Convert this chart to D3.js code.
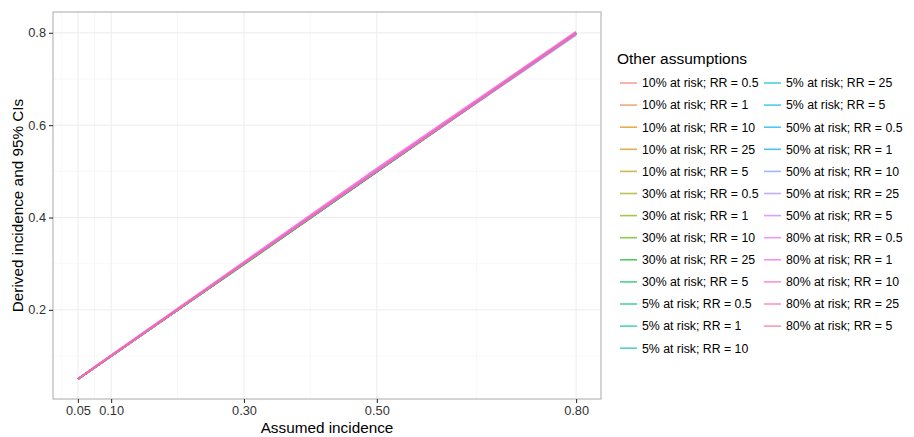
<!DOCTYPE html>
<html>
<head>
<meta charset="utf-8">
<script src="https://cdn.jsdelivr.net/npm/d3@7"></script>
<style>
  body { margin: 0; background: #fff; }
  svg { font-family: "Liberation Sans", Arial, sans-serif; }
</style>
</head>
<body>
<script>
// DATA
const assumed = [0.05, 0.10, 0.30, 0.50, 0.80];
const xTicks = [0.05, 0.10, 0.30, 0.50, 0.80];
const yTicks = [0.2, 0.4, 0.6, 0.8];
const ciRange = [0.045, 0.807];   // extent of the 95% CIs, sets the y axis range

const riskLevels = ["10%", "30%", "5%", "50%", "80%"];
const rrLevels = ["0.5", "1", "10", "25", "5"];

// derived incidence, one row per (risk, RR) in legend order
const derived = [
  [0.050, 0.100, 0.300, 0.500, 0.800],
  [0.050, 0.100, 0.300, 0.500, 0.800],
  [0.050, 0.100, 0.300, 0.500, 0.799],
  [0.050, 0.100, 0.299, 0.499, 0.799],
  [0.050, 0.100, 0.300, 0.500, 0.799],
  [0.050, 0.100, 0.300, 0.500, 0.800],
  [0.050, 0.100, 0.300, 0.500, 0.799],
  [0.050, 0.100, 0.299, 0.499, 0.798],
  [0.050, 0.100, 0.298, 0.499, 0.798],
  [0.050, 0.100, 0.299, 0.499, 0.799],
  [0.050, 0.100, 0.300, 0.500, 0.800],
  [0.050, 0.100, 0.300, 0.500, 0.800],
  [0.050, 0.100, 0.300, 0.500, 0.799],
  [0.050, 0.100, 0.300, 0.500, 0.799],
  [0.050, 0.100, 0.300, 0.500, 0.800],
  [0.050, 0.100, 0.301, 0.502, 0.799],
  [0.050, 0.100, 0.301, 0.501, 0.798],
  [0.050, 0.100, 0.300, 0.501, 0.796],
  [0.050, 0.100, 0.300, 0.500, 0.795],
  [0.050, 0.101, 0.302, 0.503, 0.798],
  [0.051, 0.102, 0.304, 0.506, 0.803],
  [0.051, 0.102, 0.304, 0.506, 0.802],
  [0.050, 0.100, 0.301, 0.501, 0.800],
  [0.050, 0.100, 0.300, 0.500, 0.799],
  [0.050, 0.100, 0.300, 0.501, 0.799]
];

const labels = [];
riskLevels.forEach(r => rrLevels.forEach(rr => labels.push(r + " at risk; RR = " + rr)));

// ggplot-like hue palette (polarLUV, l = 65, c = 100)
function hclLuv(h, c, l) {
  const hr = h * Math.PI / 180;
  const u = c * Math.cos(hr), v = c * Math.sin(hr);
  const Xn = 95.047, Yn = 100, Zn = 108.883;
  const un = 4 * Xn / (Xn + 15 * Yn + 3 * Zn), vn = 9 * Yn / (Xn + 15 * Yn + 3 * Zn);
  const Y = Yn * Math.pow((l + 16) / 116, 3);
  const up = u / (13 * l) + un, vp = v / (13 * l) + vn;
  const X = Y * 9 * up / (4 * vp);
  const Z = Y * (12 - 3 * up - 20 * vp) / (4 * vp);
  const x = X / 100, y = Y / 100, z = Z / 100;
  let rgb = [
    3.240479 * x - 1.53715 * y - 0.498535 * z,
    -0.969256 * x + 1.875992 * y + 0.041556 * z,
    0.055648 * x - 0.204043 * y + 1.057311 * z
  ];
  rgb = rgb.map(t => {
    t = t <= 0.0031308 ? 12.92 * t : 1.055 * Math.pow(t, 1 / 2.4) - 0.055;
    return Math.round(255 * Math.max(0, Math.min(1, t)));
  });
  return d3.rgb(rgb[0], rgb[1], rgb[2]).formatHex();
}
const colors = labels.map((d, i) => hclLuv(15 + 360 * i / labels.length, 100, 65));

// D3
const svg = d3.select("body").append("svg")
  .attr("width", 914).attr("height", 437);

const panel = {left: 53, right: 601, top: 12, bottom: 399};

function expand(ext) {
  const pad = (ext[1] - ext[0]) * 0.05;
  return [ext[0] - pad, ext[1] + pad];
}

const xScale = d3.scaleLinear()
  .domain(expand(d3.extent(assumed)))
  .range([panel.left, panel.right]);

const yScale = d3.scaleLinear()
  .domain(expand(ciRange))
  .range([panel.bottom, panel.top]);

// minor breaks between majors (ggplot style)
function minorBreaks(ticks, scale) {
  const dom = scale.domain();
  const step0 = ticks[1] - ticks[0], stepN = ticks[ticks.length - 1] - ticks[ticks.length - 2];
  const b = [ticks[0] - step0].concat(ticks, [ticks[ticks.length - 1] + stepN]);
  const out = [];
  for (let i = 0; i < b.length - 1; i++) {
    const m = (b[i] + b[i + 1]) / 2;
    if (m >= dom[0] && m <= dom[1]) out.push(m);
  }
  return out;
}
const yMinor = minorBreaks(yTicks, yScale);
const xMinor = minorBreaks(xTicks, xScale);

const grid = svg.append("g");
grid.selectAll(".xmin").data(xMinor).enter().append("line")
  .attr("x1", d => xScale(d)).attr("x2", d => xScale(d))
  .attr("y1", panel.top).attr("y2", panel.bottom)
  .attr("stroke", "#f4f4f4").attr("stroke-width", 0.6);
grid.selectAll(".ymin").data(yMinor).enter().append("line")
  .attr("y1", d => yScale(d)).attr("y2", d => yScale(d))
  .attr("x1", panel.left).attr("x2", panel.right)
  .attr("stroke", "#f4f4f4").attr("stroke-width", 0.6);
grid.selectAll(".xmaj").data(xTicks).enter().append("line")
  .attr("x1", d => xScale(d)).attr("x2", d => xScale(d))
  .attr("y1", panel.top).attr("y2", panel.bottom)
  .attr("stroke", "#ececec").attr("stroke-width", 1);
grid.selectAll(".ymaj").data(yTicks).enter().append("line")
  .attr("y1", d => yScale(d)).attr("y2", d => yScale(d))
  .attr("x1", panel.left).attr("x2", panel.right)
  .attr("stroke", "#ececec").attr("stroke-width", 1);

// lines
const line = d3.line().x((d, i) => xScale(assumed[i])).y(d => yScale(d));
svg.append("g").selectAll("path").data(derived).enter().append("path")
  .attr("d", line)
  .attr("fill", "none")
  .attr("stroke", (d, i) => colors[i])
  .attr("stroke-opacity", 0.6)
  .attr("stroke-width", 1.7);

// panel border
svg.append("rect")
  .attr("x", panel.left).attr("y", panel.top)
  .attr("width", panel.right - panel.left).attr("height", panel.bottom - panel.top)
  .attr("fill", "none").attr("stroke", "#b8b8b8").attr("stroke-width", 1.2);

// axes
const xAxis = svg.append("g")
  .attr("transform", "translate(0," + panel.bottom + ")")
  .call(d3.axisBottom(xScale).tickValues(xTicks).tickFormat(d3.format(".2f")).tickSize(4).tickPadding(3));
const yAxis = svg.append("g")
  .attr("transform", "translate(" + panel.left + ",0)")
  .call(d3.axisLeft(yScale).tickValues(yTicks).tickFormat(d3.format(".1f")).tickSize(4).tickPadding(3));
[xAxis, yAxis].forEach(a => {
  a.select(".domain").remove();
  a.selectAll(".tick line").attr("stroke", "#333").attr("stroke-width", 1.1);
  a.selectAll(".tick text").attr("fill", "#333")
    .style("font-size", "12.8px").style("font-family", "Liberation Sans, Arial, sans-serif");
});

svg.append("text")
  .attr("x", (panel.left + panel.right) / 2).attr("y", 433)
  .attr("text-anchor", "middle").attr("font-size", 15.3).attr("fill", "#000")
  .text("Assumed incidence");
svg.append("text")
  .attr("transform", "translate(23," + (panel.top + panel.bottom) / 2 + ") rotate(-90)")
  .attr("text-anchor", "middle").attr("font-size", 15.3).attr("fill", "#000")
  .text("Derived incidence and 95% CIs");

// legend
const legend = svg.append("g");
legend.append("text").attr("x", 617).attr("y", 64)
  .attr("font-size", 15.5).attr("fill", "#000").text("Other assumptions");
const perCol = 13;
const item = legend.selectAll(".item").data(labels).enter().append("g")
  .attr("transform", (d, i) => {
    const col = Math.floor(i / perCol), row = i % perCol;
    return "translate(" + (620 + col * 144) + "," + (83 + row * 22.1) + ")";
  });
item.append("line").attr("x1", 0).attr("x2", 17).attr("y1", 0).attr("y2", 0)
  .attr("stroke", (d, i) => colors[i]).attr("stroke-opacity", 0.7).attr("stroke-width", 1.6);
item.append("text").attr("x", 22).attr("y", 0).attr("dy", "0.35em")
  .attr("font-size", 12.3).attr("fill", "#000").text(d => d);
</script>
</body>
</html>
